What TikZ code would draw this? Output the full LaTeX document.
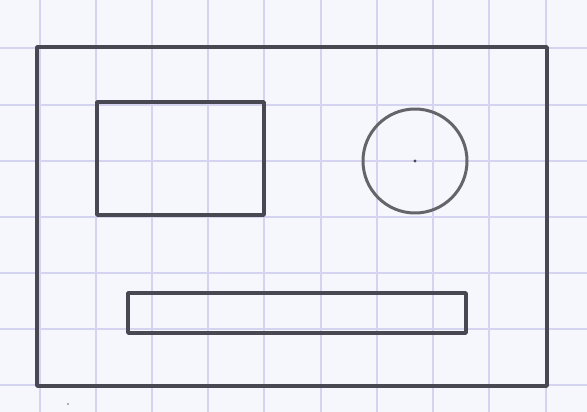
\documentclass[tikz,border=0pt]{standalone}
\definecolor{paper}{RGB}{246,247,252}
\definecolor{gridc}{RGB}{212,212,240}
\definecolor{pencil}{RGB}{72,72,82}
\definecolor{pencillight}{RGB}{100,100,105}
\tikzset{
  gridline/.style={gridc, line width=1.2pt},
  pencilline/.style={pencil, line width=3.6pt, line join=round, line cap=round},
  softline/.style={pencillight, line width=3pt, line join=round}
}
\begin{document}
\begin{tikzpicture}[x=1pt,y=-1pt]
\fill[paper] (0,0) rectangle (587,412);
\useasboundingbox (0,0) rectangle (587,412);
% graph paper
\foreach \x in {40,96,152,208,264,321,377,433,489,546}
  \draw[gridline] (\x,0) -- (\x,412);
\foreach \y in {48,105,161,217,273,329,385}
  \draw[gridline] (0,\y) -- (587,\y);
% outer frame
\coordinate (oTL) at (37,47);
\coordinate (oBR) at (547,386);
\draw[pencilline] (oTL) rectangle (oBR);
% upper-left box
\coordinate (bTL) at (97,102);
\coordinate (bBR) at (264,215);
\draw[pencilline] (bTL) rectangle (bBR);
% circle with centre dot
\coordinate (cc) at (415,161);
\draw[softline] (cc) circle[radius=52];
\fill[pencil] (cc) circle[radius=1.6];
% lower bar
\coordinate (rTL) at (128,293);
\coordinate (rBR) at (466,333);
\draw[pencilline] (rTL) rectangle (rBR);
% speck
\fill[pencillight] (68,404) circle[radius=0.9];
\end{tikzpicture}
\end{document}
